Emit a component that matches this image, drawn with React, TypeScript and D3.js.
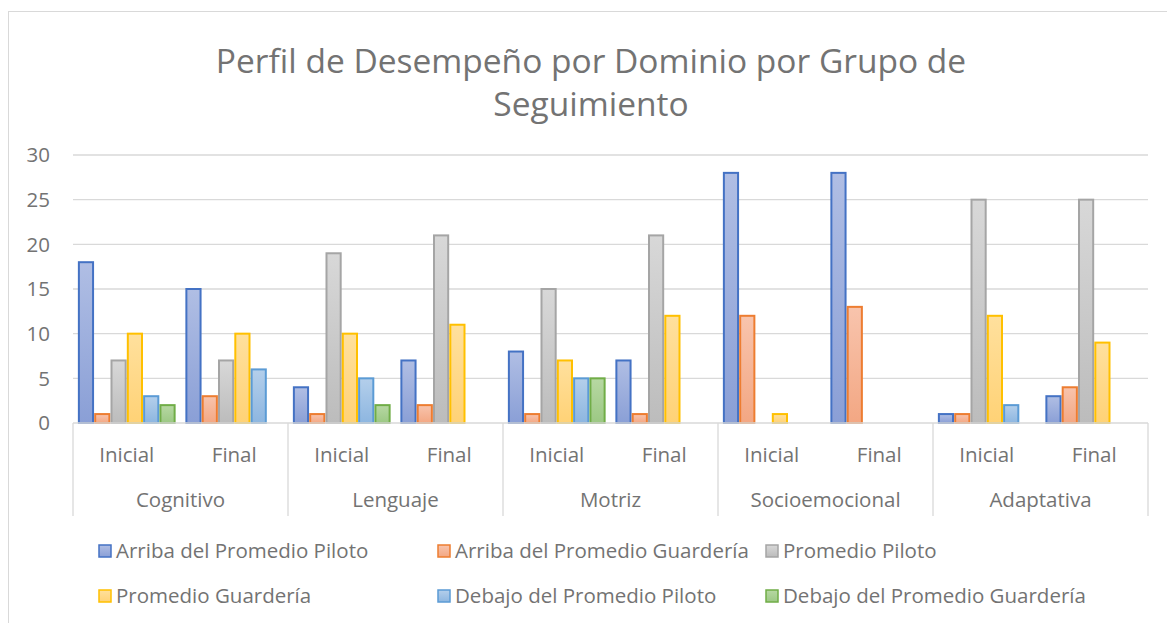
import React from "react";
import * as d3 from "d3";

const domains = ["Cognitivo", "Lenguaje", "Motriz", "Socioemocional", "Adaptativa"];
const moments = ["Inicial", "Final"];
const seriesNames = [
  "Arriba del Promedio Piloto",
  "Arriba del Promedio Guardería",
  "Promedio Piloto",
  "Promedio Guardería",
  "Debajo del Promedio Piloto",
  "Debajo del Promedio Guardería",
];

// one row per domain/moment pair: Cognitivo Inicial, Cognitivo Final, Lenguaje Inicial, ...
const arribaPiloto = [18, 15, 4, 7, 8, 7, 28, 28, 1, 3];
const arribaGuarderia = [1, 3, 1, 2, 1, 1, 12, 13, 1, 4];
const promedioPiloto = [7, 7, 19, 21, 15, 21, 0, 0, 25, 25];
const promedioGuarderia = [10, 10, 10, 11, 7, 12, 1, 0, 12, 9];
const debajoPiloto = [3, 6, 5, 0, 5, 0, 0, 0, 2, 0];
const debajoGuarderia = [2, 0, 2, 0, 5, 0, 0, 0, 0, 0];

const yTicks = [0, 5, 10, 15, 20, 25, 30];

const seriesValues = [arribaPiloto, arribaGuarderia, promedioPiloto, promedioGuarderia, debajoPiloto, debajoGuarderia];
const strokes = ["#4472c4", "#ed7d31", "#a5a5a5", "#ffc000", "#5b9bd5", "#70ad47"];
const gradTop = ["#b0bee4", "#f8c4ad", "#d8d8d8", "#ffe09d", "#b4cfeb", "#b7d8a3"];
const gradBottom = ["#8a9fd6", "#f3a783", "#bcbcbc", "#ffd276", "#8db6e0", "#9cc884"];

const FONT = "'Open Sans', 'Noto Sans', sans-serif";
const TEXT = "#737373";
const GRID = "#d9d9d9";

const App = () => {
  const left = 73;
  const right = 1148;
  const top = 155;
  const bottom = 423;

  const y = d3.scaleLinear().domain([0, 30]).range([bottom, top]);
  const xDomain = d3.scaleBand().domain(domains).range([left, right]);
  const xMoment = d3.scaleBand().domain(moments).range([0, xDomain.bandwidth()]);
  const xSeries = d3
    .scaleBand()
    .domain(seriesNames)
    .range([0, xMoment.bandwidth()])
    .paddingInner(0.13)
    .paddingOuter(0.36);

  const legendCols = [99, 438, 766];
  const legendRows = [551, 596];

  return (
    <svg width={1167} height={623} style={{ position: "absolute", left: 0, top: 0, background: "#fff" }}>
      <defs>
        {strokes.map((s, i) => (
          <linearGradient key={i} id={`g${i}`} x1="0" y1="0" x2="0" y2="1">
            <stop offset="0" stopColor={gradTop[i]} />
            <stop offset="1" stopColor={gradBottom[i]} />
          </linearGradient>
        ))}
      </defs>
      <rect x={8.5} y={11.5} width={1200} height={700} fill="#fff" stroke={GRID} strokeWidth={1} />

      <text x={591} y={73} textAnchor="middle" fontFamily={FONT} fontSize={33.5} fill={TEXT}>
        Perfil de Desempeño por Dominio por Grupo de
      </text>
      <text x={591} y={116} textAnchor="middle" fontFamily={FONT} fontSize={33.5} fill={TEXT}>
        Seguimiento
      </text>

      {yTicks.map((t) => (
        <g key={t}>
          {t > 0 && <line x1={left} x2={right} y1={y(t)} y2={y(t)} stroke={GRID} strokeWidth={1.3} />}
          <text x={50} y={y(t)} dy="0.35em" textAnchor="end" fontFamily={FONT} fontSize={20.5} fill={TEXT}>
            {t}
          </text>
        </g>
      ))}

      {domains.map((dom, di) =>
        moments.map((m, mi) => {
          const idx = di * 2 + mi;
          const gx = (xDomain(dom) as number) + (xMoment(m) as number);
          return (
            <g key={dom + m}>
              {seriesNames.map((s, si) => {
                const v = seriesValues[si][idx];
                if (!v) return null;
                return (
                  <rect
                    key={s}
                    x={gx + (xSeries(s) as number)}
                    y={y(v)}
                    width={xSeries.bandwidth()}
                    height={y(0) - y(v)}
                    fill={`url(#g${si})`}
                    stroke={strokes[si]}
                    strokeWidth={2}
                  />
                );
              })}
              <text
                x={gx + xMoment.bandwidth() / 2}
                y={455}
                dy="0.35em"
                textAnchor="middle"
                fontFamily={FONT}
                fontSize={20.5}
                fill={TEXT}
              >
                {m}
              </text>
            </g>
          );
        })
      )}

      <line x1={left} x2={right} y1={bottom} y2={bottom} stroke={GRID} strokeWidth={1.3} />
      {[...domains.map((d) => xDomain(d) as number), right].map((xv, i) => (
        <line key={i} x1={xv} x2={xv} y1={bottom} y2={516} stroke={GRID} strokeWidth={1.3} />
      ))}
      {domains.map((d) => (
        <text
          key={d}
          x={(xDomain(d) as number) + xDomain.bandwidth() / 2}
          y={500}
          dy="0.35em"
          textAnchor="middle"
          fontFamily={FONT}
          fontSize={20.5}
          fill={TEXT}
        >
          {d}
        </text>
      ))}

      {seriesNames.map((s, i) => {
        const cx = legendCols[i % 3];
        const cy = legendRows[Math.floor(i / 3)];
        return (
          <g key={s}>
            <rect x={cx} y={cy - 6} width={12} height={12} fill={`url(#g${i})`} stroke={strokes[i]} strokeWidth={1.5} />
            <text x={cx + 17} y={cy} dy="0.35em" fontFamily={FONT} fontSize={20.5} fill={TEXT}>
              {s}
            </text>
          </g>
        );
      })}
    </svg>
  );
};

export default App;
